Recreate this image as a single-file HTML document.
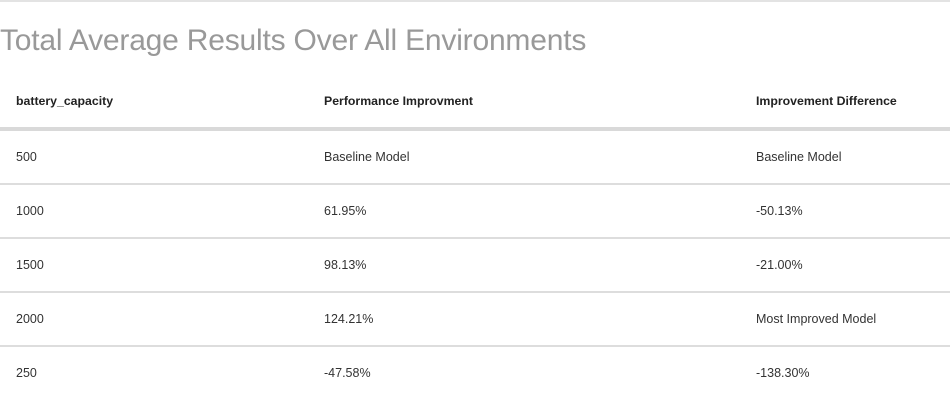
<!DOCTYPE html>
<html><head><meta charset="utf-8"><style>
body{margin:0;width:950px;height:418px;background:#fff;font-family:"Liberation Sans",sans-serif;overflow:hidden;position:relative}
.top{position:absolute;left:0;top:0;width:950px;height:2px;background:#e3e3e3}
h1{position:absolute;left:0;top:24px;margin:0;font-weight:normal;font-size:30px;color:#999;letter-spacing:-0.2px;white-space:nowrap}
.row{position:absolute;left:0;width:950px;font-size:12.5px;color:#333}
.row span{position:absolute;top:0;white-space:nowrap}
.c1{left:16px}.c2{left:324px}.c3{left:756px}
.hdr{font-weight:bold;color:#222;font-size:12.3px}
.line{position:absolute;left:0;width:950px;background:#ddd}
</style></head><body>
<div class="top"></div>
<h1>Total Average Results Over All Environments</h1>
<div class="row hdr" style="top:94px">
<span class="c1">battery_capacity</span>
<span class="c2">Performance Improvment</span>
<span class="c3">Improvement Difference</span>
</div>
<div class="line" style="top:127px;height:4px;background:#d9d9d9"></div>
<div class="row" style="top:150px"><span class="c1">500</span><span class="c2">Baseline Model</span><span class="c3">Baseline Model</span></div>
<div class="line" style="top:183px;height:2px"></div>
<div class="row" style="top:204px"><span class="c1">1000</span><span class="c2">61.95%</span><span class="c3">-50.13%</span></div>
<div class="line" style="top:237px;height:2px"></div>
<div class="row" style="top:258px"><span class="c1">1500</span><span class="c2">98.13%</span><span class="c3">-21.00%</span></div>
<div class="line" style="top:291px;height:2px"></div>
<div class="row" style="top:312px"><span class="c1">2000</span><span class="c2">124.21%</span><span class="c3">Most Improved Model</span></div>
<div class="line" style="top:345px;height:2px"></div>
<div class="row" style="top:366px"><span class="c1">250</span><span class="c2">-47.58%</span><span class="c3">-138.30%</span></div>
</body></html>
